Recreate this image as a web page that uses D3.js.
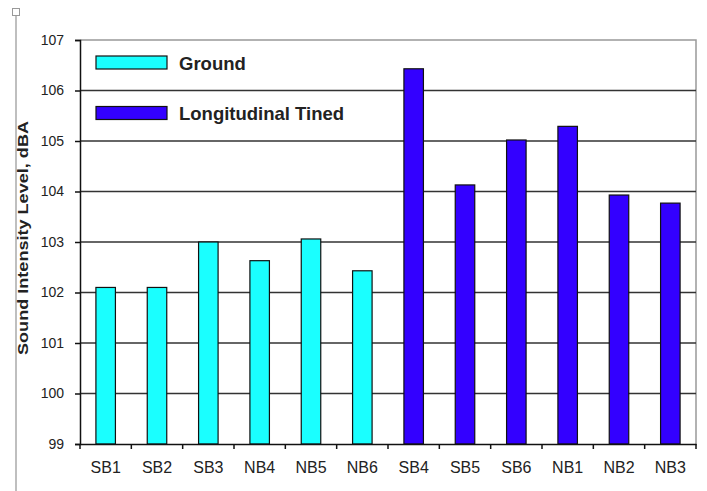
<!DOCTYPE html>
<html><head><meta charset="utf-8">
<script src="https://cdn.jsdelivr.net/npm/d3@7"></script>
<style>body{margin:0;background:#fff}svg{display:block}text{font-family:Arial,"Liberation Sans",sans-serif}</style>
</head><body>
<svg id="c" width="707" height="491"></svg>
<script>
const categories = ["SB1","SB2","SB3","NB4","NB5","NB6","SB4","SB5","SB6","NB1","NB2","NB3"];
const values = [102.1,102.1,103.0,102.63,103.06,102.43,106.43,104.13,105.02,105.29,103.93,103.77];
const groups = ["Ground","Ground","Ground","Ground","Ground","Ground","Longitudinal Tined","Longitudinal Tined","Longitudinal Tined","Longitudinal Tined","Longitudinal Tined","Longitudinal Tined"];
const seriesNames = ["Ground","Longitudinal Tined"];
const seriesColors = ["#1affff","#3300ff"];
const yTicks = [99,100,101,102,103,104,105,106,107];

const svg = d3.select("#c");
const L = 80, R = 696, T = 40, B = 444;
const x = d3.scaleBand().domain(categories).range([L, R]).paddingInner(0.62).paddingOuter(0.31);
const y = d3.scaleLinear().domain([99,107]).range([B, T]);
const color = d3.scaleOrdinal().domain(seriesNames).range(seriesColors);
const FONT = "Arial, 'Liberation Sans', sans-serif";

// left gray decoration
svg.append("line").attr("x1",16).attr("x2",16).attr("y1",16).attr("y2",491).attr("stroke","#aaa").attr("stroke-width",1.5);
svg.append("rect").attr("x",12.5).attr("y",8.5).attr("width",7).attr("height",7).attr("fill","#fff").attr("stroke","#999");

// frame
svg.append("path").attr("d",`M${L},${T}H${R}V${B}`).attr("fill","none").attr("stroke","#999").attr("stroke-width",1.5);

// gridlines
svg.append("g").selectAll("line").data(yTicks.slice(1,-1)).join("line")
  .attr("x1",L).attr("x2",R).attr("y1",d=>y(d)).attr("y2",d=>y(d))
  .attr("stroke","#333").attr("stroke-width",1.3);

// bars
svg.append("g").selectAll("rect").data(categories).join("rect")
  .attr("x",d=>x(d)).attr("width",x.bandwidth())
  .attr("y",(d,i)=>y(values[i])).attr("height",(d,i)=>B-y(values[i]))
  .attr("fill",(d,i)=>color(groups[i])).attr("stroke","#111").attr("stroke-width",1.2);

// y axis
const ya = svg.append("g").attr("transform",`translate(${L},0)`)
  .call(d3.axisLeft(y).tickValues(yTicks).tickSize(5).tickPadding(11).tickFormat(d3.format("d")));
ya.select(".domain").attr("stroke","#111").attr("stroke-width",1.5);
ya.selectAll(".tick line").attr("stroke","#111").attr("stroke-width",1.5);
ya.selectAll("text").attr("font-size",14).attr("fill","#222").attr("font-family",FONT);

// x axis
const xa = svg.append("g").attr("transform",`translate(0,${B})`)
  .call(d3.axisBottom(x).tickSize(0).tickPadding(18));
xa.select(".domain").attr("stroke","#111").attr("stroke-width",1.5);
xa.selectAll("text").attr("font-size",16).attr("fill","#222").attr("font-family",FONT);
// boundary ticks
const bounds = d3.range(categories.length+1).map(i=>L + i*(R-L)/categories.length);
svg.append("g").selectAll("line").data(bounds).join("line")
  .attr("x1",d=>d).attr("x2",d=>d).attr("y1",B).attr("y2",B+5)
  .attr("stroke","#111").attr("stroke-width",1.5);

// y title
svg.append("text").attr("transform",`translate(28,238) rotate(-90)`)
  .attr("text-anchor","middle").attr("font-size",14.5).attr("font-weight","bold").attr("fill","#222")
  .attr("textLength",234).attr("lengthAdjust","spacingAndGlyphs")
  .text("Sound Intensity Level, dBA");

// legend
const lg = svg.append("g");
seriesNames.forEach((s,i)=>{
  const yy = 56 + i*50.5;
  lg.append("rect").attr("x",96).attr("y",yy).attr("width",71).attr("height",13)
    .attr("fill",color(s)).attr("stroke","#111").attr("stroke-width",1.2);
  lg.append("text").attr("x",179).attr("y",yy+13.5).attr("font-size",18.5).attr("font-weight","bold")
    .attr("fill","#222").text(s);
});
</script>
</body></html>
